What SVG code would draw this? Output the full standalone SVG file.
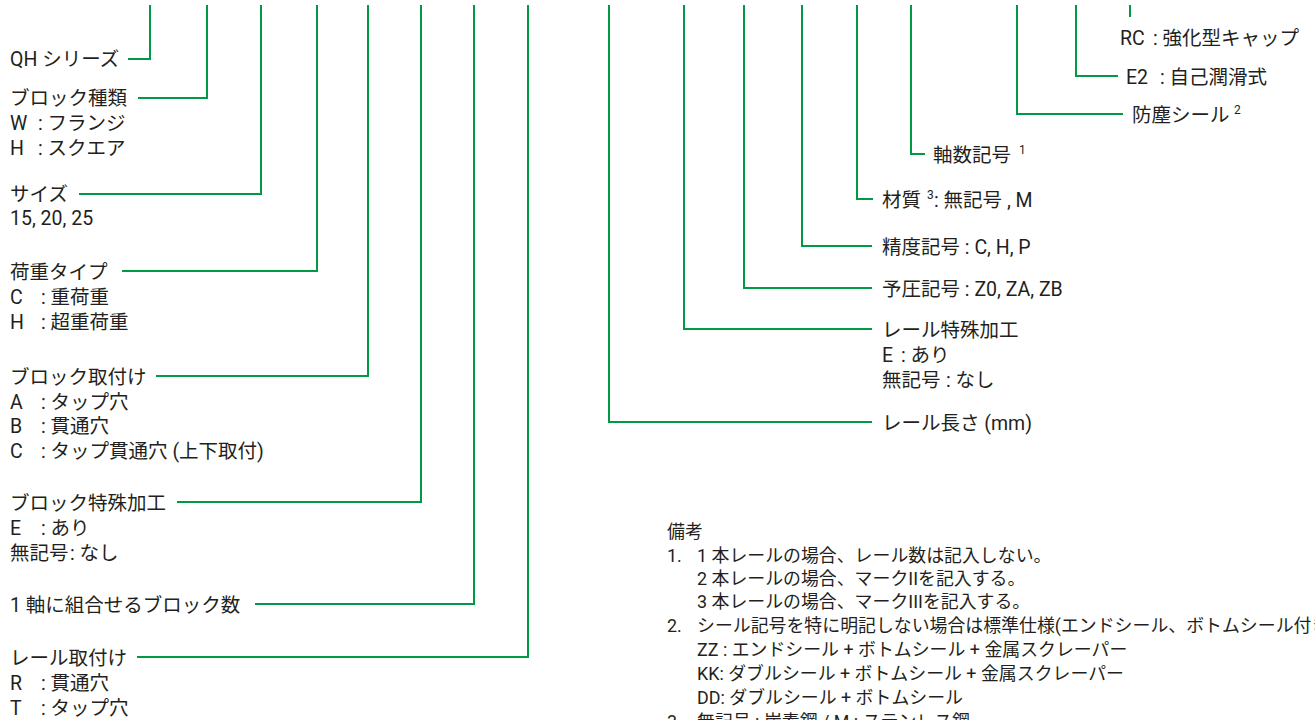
<svg xmlns="http://www.w3.org/2000/svg" width="1315" height="720" viewBox="0 0 1315 720">
<style>
text{font-family:Roboto,"Noto Sans CJK JP",sans-serif;font-size:19.5px;fill:#231f20}
.n{font-size:17.9px}
.sup{font-size:12px}
#connectors path{fill:none;stroke:#009944;stroke-width:2}
</style>
<rect width="1315" height="720" fill="#fff"/>
<g id="connectors">
<path d="M150,5V59H128"/>
<path d="M207,5V98H138"/>
<path d="M261,5V194H79"/>
<path d="M317,5V271H122"/>
<path d="M368,5V376H156"/>
<path d="M421,5V502H177"/>
<path d="M474,5V604H255"/>
<path d="M528,5V657H137"/>
<path d="M609,5V422H872"/>
<path d="M684,5V329H872"/>
<path d="M744,5V288H872"/>
<path d="M802,5V246H872"/>
<path d="M857,5V199H873"/>
<path d="M911,5V154H925"/>
<path d="M1017,5V114H1123"/>
<path d="M1076,5V76H1118"/>
<path d="M1130,5V17"/>
</g>
<g id="series"><text x="10" y="66">QH シリーズ</text></g>
<g id="block-type">
<text x="10" y="105">ブロック種類</text>
<text x="10" y="130">W<tspan x="38">: フランジ</tspan></text>
<text x="10" y="155">H<tspan x="38">: スクエア</tspan></text>
</g>
<g id="size">
<text x="10" y="201">サイズ</text>
<text x="10" y="225">15, 20, 25</text>
</g>
<g id="load-type">
<text x="10" y="279">荷重タイプ</text>
<text x="10" y="304">C<tspan x="41">: 重荷重</tspan></text>
<text x="10" y="329">H<tspan x="41">: 超重荷重</tspan></text>
</g>
<g id="block-mount">
<text x="10" y="384">ブロック取付け</text>
<text x="10" y="409">A<tspan x="41">: タップ穴</tspan></text>
<text x="10" y="433">B<tspan x="41">: 貫通穴</tspan></text>
<text x="10" y="458">C<tspan x="41">: タップ貫通穴 (上下取付)</tspan></text>
</g>
<g id="block-special">
<text x="10" y="510">ブロック特殊加工</text>
<text x="10" y="535">E<tspan x="41">: あり</tspan></text>
<text x="10" y="560">無記号<tspan x="70">: なし</tspan></text>
</g>
<g id="block-count"><text x="10" y="612">1 軸に組合せるブロック数</text></g>
<g id="rail-mount">
<text x="10" y="665">レール取付け</text>
<text x="10" y="690">R<tspan x="41">: 貫通穴</tspan></text>
<text x="10" y="715">T<tspan x="41">: タップ穴</tspan></text>
</g>
<g id="cap"><text x="1120" y="45">RC<tspan x="1153">: 強化型キャップ</tspan></text></g>
<g id="lube"><text x="1126" y="84">E2<tspan x="1160">: 自己潤滑式</tspan></text></g>
<g id="seal"><text x="1132" y="122">防塵シール<tspan class="sup" x="1234" y="114">2</tspan></text></g>
<g id="axis"><text x="933" y="162">軸数記号<tspan class="sup" x="1019" y="154">1</tspan></text></g>
<g id="material"><text x="882" y="207">材質<tspan class="sup" x="927" y="199">3</tspan><tspan x="934" y="207">: 無記号 , M</tspan></text></g>
<g id="accuracy"><text x="882" y="254">精度記号 : C, H, P</text></g>
<g id="preload"><text x="882" y="296">予圧記号 : Z0, ZA, ZB</text></g>
<g id="rail-special">
<text x="882" y="337">レール特殊加工</text>
<text x="882" y="362">E<tspan x="901">: あり</tspan></text>
<text x="882" y="387">無記号<tspan x="946">: なし</tspan></text>
</g>
<g id="rail-length"><text x="882" y="430">レール長さ (mm)</text></g>
<g id="notes">
<text class="n" x="667" y="538">備考</text>
<text class="n" x="667" y="562">1.<tspan x="697">1 本レールの場合、レール数は記入しない。</tspan></text>
<text class="n" x="697" y="585">2 本レールの場合、マークIIを記入する。</text>
<text class="n" x="697" y="608">3 本レールの場合、マークIIIを記入する。</text>
<text class="n" x="667" y="632">2.<tspan x="697">シール記号を特に明記しない場合は標準仕様(エンドシール、ボトムシール付き)</tspan></text>
<text class="n" x="697" y="656">ZZ : エンドシール + ボトムシール + 金属スクレーパー</text>
<text class="n" x="697" y="680">KK: ダブルシール + ボトムシール + 金属スクレーパー</text>
<text class="n" x="697" y="704">DD: ダブルシール + ボトムシール</text>
<text class="n" x="667" y="728">3.<tspan x="697">無記号 : 炭素鋼 / M : ステンレス鋼</tspan></text>
</g>
</svg>
